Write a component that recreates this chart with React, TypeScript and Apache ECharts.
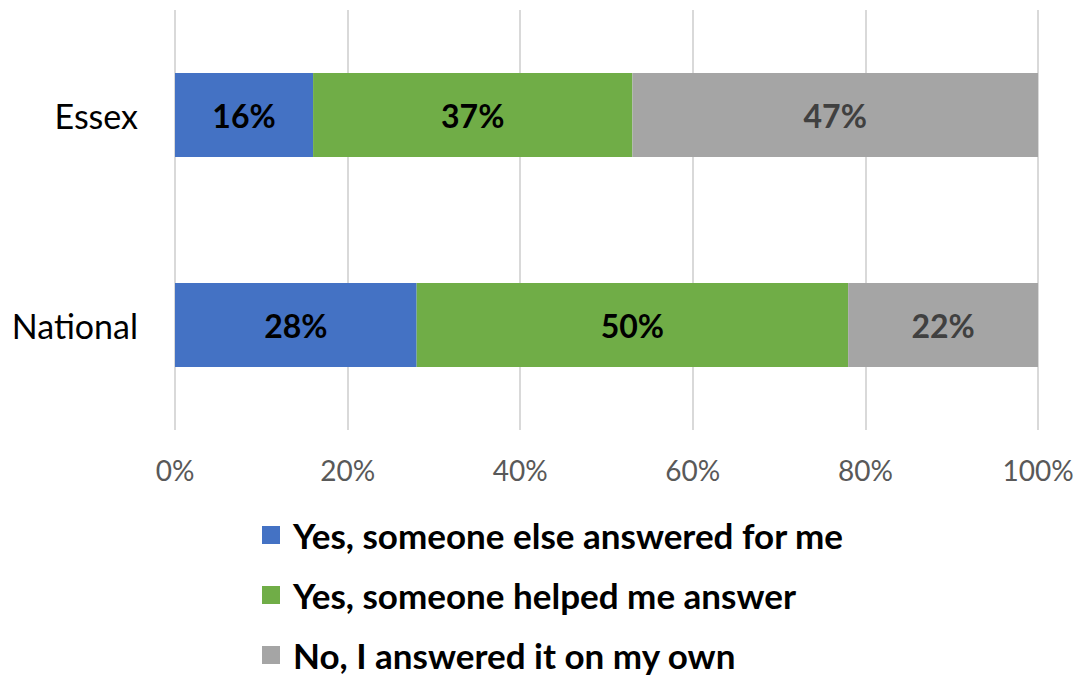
import React, { useEffect, useRef } from "react";
import * as echarts from "echarts";

const categories = ["National", "Essex"];
const seriesNames = [
  "Yes, someone else answered for me",
  "Yes, someone helped me answer",
  "No, I answered it on my own",
];
const someoneElse = [28, 16];
const helped = [50, 37];
const ownOwn = [22, 47];
const xTicks = [0, 20, 40, 60, 80, 100];

const FONT = "Lato, 'Open Sans', sans-serif";

export default function App() {
  const ref = useRef<HTMLDivElement>(null);
  useEffect(() => {
    document.body.style.margin = "0";
    if (!ref.current) return;
    const chart = echarts.init(ref.current, undefined, { renderer: "svg" });
    const mk = (name: string, data: number[], color: string, labelColor: string) => ({
      name,
      type: "bar",
      stack: "total",
      data,
      barWidth: "40%",
      itemStyle: { color },
      label: {
        show: true,
        position: "inside",
        formatter: (p: any) => `${p.value}%`,
        fontFamily: FONT,
        fontWeight: "bold",
        fontSize: 32,
        color: labelColor,
      },
    });
    chart.setOption({
      animation: false,
      textStyle: { fontFamily: FONT },
      grid: { left: 175, right: 40, top: 10, bottom: 249, containLabel: false },
      xAxis: {
        type: "value",
        min: xTicks[0],
        max: xTicks[xTicks.length - 1],
        interval: 20,
        axisLabel: {
          formatter: (v: number) => `${v}%`,
          fontSize: 28,
          color: "#595959",
          margin: 26,
          fontFamily: FONT,
        },
        axisLine: { show: false },
        axisTick: { show: false },
        splitLine: { show: true, lineStyle: { color: "#D9D9D9", width: 2 } },
      },
      yAxis: {
        type: "category",
        data: categories,
        axisLine: { show: false },
        axisTick: { show: false },
        axisLabel: { fontSize: 34, color: "#000000", margin: 37, fontFamily: FONT },
      },
      legend: {
        orient: "vertical",
        left: 262,
        top: 517,
        padding: 0,
        height: 200,
        itemWidth: 18,
        itemHeight: 18,
        itemGap: 24,
        icon: "rect",
        data: seriesNames,
        textStyle: {
          fontSize: 35,
          fontWeight: "bold",
          color: "#000000",
          fontFamily: FONT,
          lineHeight: 36,
          padding: [0, 0, 0, 8],
        },
      },
      series: [
        mk(seriesNames[0], someoneElse, "#4472C4", "#000000"),
        mk(seriesNames[1], helped, "#70AD47", "#000000"),
        mk(seriesNames[2], ownOwn, "#A5A5A5", "#404040"),
      ],
    });
    return () => chart.dispose();
  }, []);
  return <div ref={ref} style={{ width: 1078, height: 679 }} />;
}
